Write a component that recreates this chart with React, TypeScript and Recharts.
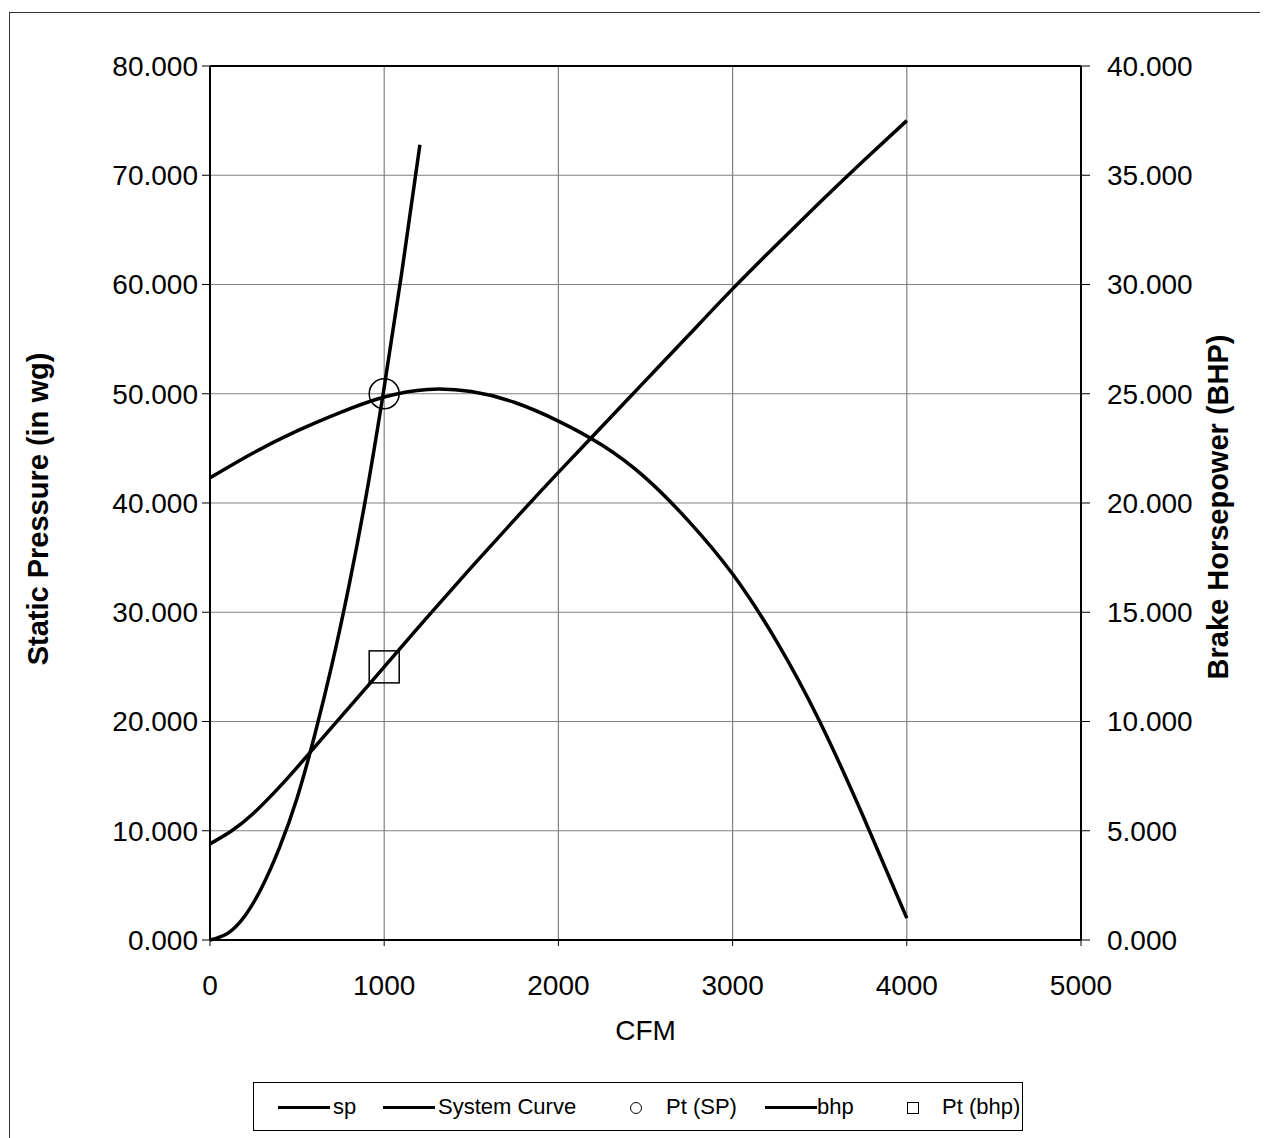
import React from 'react';
import {
  ComposedChart, Line, Scatter, XAxis, YAxis, CartesianGrid, Legend, ReferenceLine,
} from 'recharts';

// fan curve (static pressure, left axis)
const fanCfm = [0, 250, 500, 750, 1000, 1250, 1500, 1750, 2000, 2250, 2500, 2750, 3000, 3250, 3500, 3750, 4000];
const fanSp = [42.3, 44.6, 46.6, 48.3, 49.7, 50.4, 50.2, 49.2, 47.5, 45.3, 42.3, 38.3, 33.5, 27.4, 20.0, 11.3, 2.0];

// system curve (left axis)
const sysCfm = [0, 100, 200, 300, 400, 500, 600, 700, 800, 900, 1000, 1100, 1205];
const sysSp = [0, 0.6, 2.2, 4.9, 8.5, 13.0, 18.7, 25.2, 32.6, 41.0, 50.6, 61.0, 72.8];

// brake horsepower (right axis)
const bhpCfm = [0, 125, 250, 375, 500, 750, 1000, 1250, 1500, 1750, 2000, 2250, 2500, 2750, 3000, 3250, 3500, 3750, 4000];
const bhpVal = [4.4, 5.0, 5.8, 6.8, 7.9, 10.2, 12.5, 14.8, 17.05, 19.25, 21.4, 23.5, 25.6, 27.7, 29.8, 31.8, 33.75, 35.65, 37.5];

// operating points
const ptSp = [{ x: 1000, y: 50 }];
const ptBhp = [{ x: 1000, y: 12.5 }];

const xTicks = [0, 1000, 2000, 3000, 4000, 5000];
const leftTicks = [0, 10, 20, 30, 40, 50, 60, 70, 80];
const rightTicks = [0, 5, 10, 15, 20, 25, 30, 35, 40];

const legendLabels = ['sp', 'System Curve', 'Pt (SP)', 'bhp', 'Pt (bhp)'];

const FONT = '"Liberation Sans", Arial, sans-serif';

const zip = (xs: number[], ys: number[]) => xs.map((x, i) => ({ x, y: ys[i] }));
const fanData = zip(fanCfm, fanSp);
const sysData = zip(sysCfm, sysSp);
const bhpData = zip(bhpCfm, bhpVal);

const fmt = (v: number) => v.toFixed(3);

const LeftTitle = (props: any) => {
  const { viewBox } = props;
  const cx = viewBox.x + 28;
  const cy = viewBox.y + viewBox.height / 2 + 6;
  return (
    <text x={cx} y={cy} transform={`rotate(-90 ${cx} ${cy})`} textAnchor="middle"
      dominantBaseline="central" fontFamily={FONT} fontSize={29} fontWeight="bold" fill="#000">
      Static Pressure (in wg)
    </text>
  );
};

const RightTitle = (props: any) => {
  const { viewBox } = props;
  const cx = viewBox.x + 137;
  const cy = viewBox.y + viewBox.height / 2 + 4;
  return (
    <text x={cx} y={cy} transform={`rotate(-90 ${cx} ${cy})`} textAnchor="middle"
      dominantBaseline="central" fontFamily={FONT} fontSize={29} fontWeight="bold" fill="#000">
      Brake Horsepower (BHP)
    </text>
  );
};

const XTitle = (props: any) => {
  const { viewBox } = props;
  return (
    <text x={viewBox.x + viewBox.width / 2} y={viewBox.y + 100} textAnchor="middle"
      fontFamily={FONT} fontSize={28} fill="#000">
      CFM
    </text>
  );
};

const LineSwatch = ({ left }: { left: number }) => (
  <div style={{ position: 'absolute', left, top: 23, width: 52, height: 3, background: '#000' }} />
);

const renderLegend = () => {
  const txt = (left: number, s: string) => (
    <span style={{ position: 'absolute', left, top: 10, lineHeight: '28px', whiteSpace: 'nowrap' }}>{s}</span>
  );
  return (
    <div style={{
      position: 'relative', width: 770, height: 49, border: '1px solid #000', boxSizing: 'border-box',
      fontFamily: FONT, fontSize: 22, color: '#000', background: '#fff',
    }}>
      <LineSwatch left={24} />
      {txt(79, legendLabels[0])}
      <LineSwatch left={129} />
      {txt(184, legendLabels[1])}
      <div style={{ position: 'absolute', left: 376, top: 19, width: 10, height: 10, border: '1px solid #000', borderRadius: '50%' }} />
      {txt(412, legendLabels[2])}
      <LineSwatch left={511} />
      {txt(563, legendLabels[3])}
      <div style={{ position: 'absolute', left: 653, top: 19, width: 10, height: 10, border: '1px solid #000' }} />
      {txt(688, legendLabels[4])}
    </div>
  );
};

const circleShape = (p: any) => (
  <circle cx={p.cx} cy={p.cy} r={15} fill="none" stroke="#000" strokeWidth={1.5} />
);
const squareShape = (p: any) => (
  <rect x={p.cx - 15} y={p.cy - 16} width={30} height={32} fill="none" stroke="#000" strokeWidth={1.5} />
);

const tickStyle = { fontFamily: FONT, fontSize: 28, fill: '#000' };

export default function App() {
  return (
    <>
      <style>{'html, body { overflow: hidden; }'}</style>
      <div style={{ position: 'relative', left: 1, top: 4, width: 1250, height: 1130, borderTop: '1px solid #333', borderLeft: '1px solid #333' }}>
        <ComposedChart width={1250} height={1118} margin={{ top: 53, right: 0, bottom: 0, left: 0 }}>
          <CartesianGrid yAxisId="left" stroke="#808080" strokeWidth={1.2} />
          <XAxis
            type="number" dataKey="x" domain={[0, 5000]} ticks={xTicks} interval={0}
            height={142} tickSize={6} tickMargin={29} tick={tickStyle}
            axisLine={{ stroke: '#000', strokeWidth: 2 }} tickLine={{ stroke: '#000' }}
            label={{ content: XTitle }}
          />
          <YAxis
            yAxisId="left" dataKey="y" type="number" domain={[0, 80]} ticks={leftTicks} interval={0}
            width={200} tickSize={8} tickMargin={4} tickFormatter={fmt} tick={tickStyle}
            axisLine={{ stroke: '#000', strokeWidth: 2 }} tickLine={{ stroke: '#000' }}
            label={{ content: LeftTitle }}
          />
          <YAxis
            yAxisId="right" orientation="right" dataKey="y" type="number" domain={[0, 40]} ticks={rightTicks} interval={0}
            width={179} tickSize={9} tickMargin={17} tickFormatter={fmt} tick={{ ...tickStyle, textAnchor: 'start' }}
            axisLine={{ stroke: '#000', strokeWidth: 2 }} tickLine={{ stroke: '#000' }}
            label={{ content: RightTitle }}
          />
          <ReferenceLine yAxisId="left" y={80} stroke="#000" strokeWidth={2} />
          <Line yAxisId="left" data={fanData} dataKey="y" name="sp" type="natural" stroke="#000"
            strokeWidth={3.5} dot={false} isAnimationActive={false} />
          <Line yAxisId="left" data={sysData} dataKey="y" name="System Curve" type="natural" stroke="#000"
            strokeWidth={3.5} dot={false} isAnimationActive={false} />
          <Scatter yAxisId="left" data={ptSp} dataKey="y" name="Pt (SP)" shape={circleShape} isAnimationActive={false} />
          <Line yAxisId="right" data={bhpData} dataKey="y" name="bhp" type="natural" stroke="#000"
            strokeWidth={3.5} dot={false} isAnimationActive={false} />
          <Scatter yAxisId="right" data={ptBhp} dataKey="y" name="Pt (bhp)" shape={squareShape} isAnimationActive={false} />
          <Legend verticalAlign="bottom" content={renderLegend} wrapperStyle={{ left: 243, bottom: 0, width: 770, height: 49 }} />
        </ComposedChart>
      </div>
    </>
  );
}
